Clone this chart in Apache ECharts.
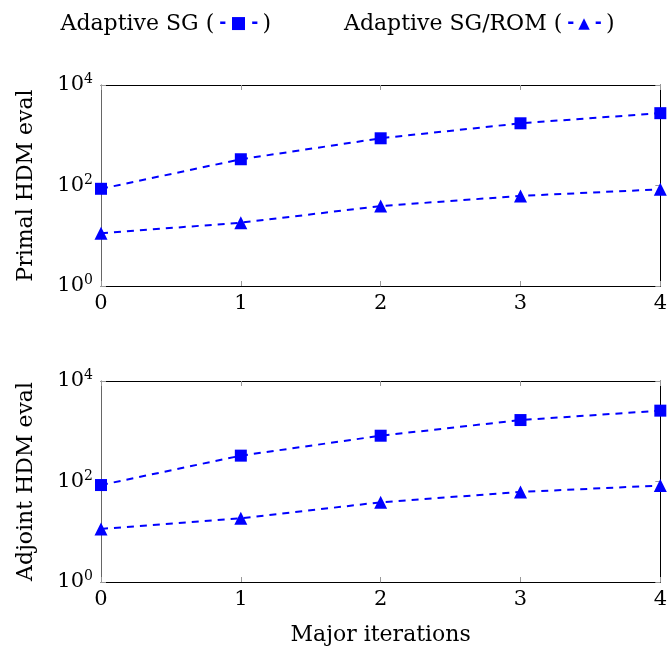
<!DOCTYPE html>
<html><head><meta charset="utf-8">
<script src="https://cdn.jsdelivr.net/npm/echarts@6/dist/echarts.min.js"></script>
<style>html,body{margin:0;padding:0;background:#fff}#c{width:670px;height:650px}</style>
</head><body><div id="c"></div>
<script>
const iterations = [0, 1, 2, 3, 4];
const xTicks = [0, 1, 2, 3, 4];
const yTickExponents = [0, 2, 4];
const primalSG = [86, 333, 870, 1730, 2750];
const primalSGROM = [11.2, 18.2, 39, 62, 84];
const adjointSG = [85, 327, 815, 1670, 2570];
const adjointSGROM = [11.4, 18.5, 38.6, 62, 83];
const seriesNames = ['Adaptive SG', 'Adaptive SG/ROM'];
const yNames = ['Primal HDM eval', 'Adjoint HDM eval'];
const xName = 'Major iterations';

const FONT = 'DejaVu Serif';
const FS = 22;
const BLUE = '#0000ff';
const pairs = (ys) => iterations.map((x, i) => [x, ys[i]]);

const grids = [
  {left: 101, right: 8, top: 85, height: 201},
  {left: 101, right: 8, top: 381, height: 201}
];

function mainX(gi, showName) {
  return {
    type: 'value', gridIndex: gi, min: xTicks[0], max: xTicks[xTicks.length - 1], interval: 1,
    position: 'bottom',
    axisLine: {show: true, onZero: false, lineStyle: {color: '#000', width: 1}},
    axisTick: {show: true, inside: true, length: 5, lineStyle: {color: '#999'}},
    axisLabel: {show: true, margin: 7, color: '#000', fontFamily: FONT, fontSize: 21},
    splitLine: {show: false},
    name: showName ? xName : '', nameLocation: 'middle', nameGap: 42,
    nameTextStyle: {color: '#000', fontFamily: FONT, fontSize: FS}
  };
}
function topX(gi) {
  return {
    type: 'value', gridIndex: gi, min: xTicks[0], max: xTicks[xTicks.length - 1], interval: 1,
    position: 'top',
    axisLine: {show: true, onZero: false, lineStyle: {color: '#000', width: 1}},
    axisTick: {show: true, inside: true, length: 5, lineStyle: {color: '#999'}},
    axisLabel: {show: false}, splitLine: {show: false}
  };
}
const yMin = Math.pow(10, yTickExponents[0]);
const yMax = Math.pow(10, yTickExponents[yTickExponents.length - 1]);
function mainY(gi, name) {
  return {
    type: 'log', logBase: 100, gridIndex: gi, min: yMin, max: yMax, position: 'left',
    axisLine: {show: true, onZero: false, lineStyle: {color: '#666', width: 1}},
    axisTick: {show: true, inside: true, length: 5, lineStyle: {color: '#999'}},
    minorTick: {show: false},
    axisLabel: {
      show: true, margin: 8, color: '#000',
      formatter: v => '{b|10}{s|' + Math.round(Math.log10(v)) + '}',
      rich: {
        b: {fontFamily: FONT, fontSize: 21, color: '#000'},
        s: {fontFamily: FONT, fontSize: 14, color: '#000', padding: [0, 0, 11, 0]}
      }
    },
    splitLine: {show: false},
    name: name, nameLocation: 'middle', nameGap: 64, nameRotate: 90,
    nameTextStyle: {color: '#000', fontFamily: FONT, fontSize: FS}
  };
}
function rightY(gi) {
  return {
    type: 'log', logBase: 100, gridIndex: gi, min: yMin, max: yMax, position: 'right',
    axisLine: {show: true, onZero: false, lineStyle: {color: '#000', width: 1}},
    axisTick: {show: true, inside: true, length: 5, lineStyle: {color: '#999'}},
    axisLabel: {show: false}, splitLine: {show: false}
  };
}

function line(name, data, gi, symbol) {
  return {
    name: name, type: 'line', xAxisIndex: gi * 2, yAxisIndex: gi * 2, data: data,
    symbol: symbol, symbolSize: symbol === 'rect' ? 12 : 13,
    itemStyle: {color: BLUE}, lineStyle: {color: BLUE, width: 2, type: [7, 6]},
    z: 5, clip: false, animation: false
  };
}

const chart = echarts.init(document.getElementById('c'), null, {renderer: 'canvas'});
chart.setOption({
  animation: false,
  backgroundColor: '#fff',
  grid: grids,
  legend: {
    top: 8, left: 'center', itemGap: 68, itemWidth: 0, itemHeight: 0, icon: 'rect',
    data: seriesNames,
    formatter: n => n === seriesNames[0]
      ? n + ' ({d|-}{sq|■}{d|-})'
      : n + ' ({d|-}{tr|▲}{d|-})',
    textStyle: {
      fontFamily: FONT, fontSize: FS, color: '#000',
      rich: {
        d: {color: BLUE, fontFamily: 'DejaVu Sans', fontSize: 17, fontWeight: 'bold', padding: [0, 4, 0, 5]},
        sq: {color: BLUE, fontFamily: 'DejaVu Sans', fontSize: 17},
        tr: {color: BLUE, fontFamily: 'DejaVu Sans', fontSize: 15}
      }
    }
  },
  xAxis: [mainX(0, false), topX(0), mainX(1, true), topX(1)],
  yAxis: [mainY(0, yNames[0]), rightY(0), mainY(1, yNames[1]), rightY(1)],
  series: [
    line(seriesNames[0], pairs(primalSG), 0, 'rect'),
    line(seriesNames[1], pairs(primalSGROM), 0, 'triangle'),
    line(seriesNames[0], pairs(adjointSG), 1, 'rect'),
    line(seriesNames[1], pairs(adjointSGROM), 1, 'triangle')
  ]
});
</script></body></html>
